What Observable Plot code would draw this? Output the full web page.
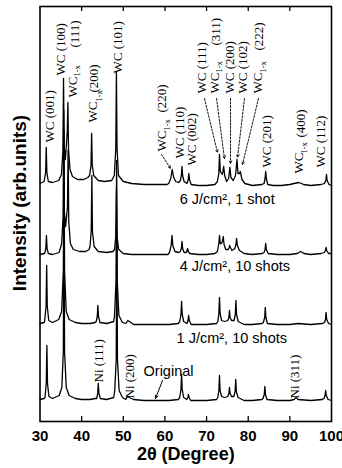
<!DOCTYPE html>
<html>
<head>
<meta charset="utf-8">
<script src="https://cdn.jsdelivr.net/npm/d3@7"></script>
<script src="https://cdn.jsdelivr.net/npm/@observablehq/plot@0.6"></script>
<style>
  html, body { margin: 0; padding: 0; background: #fff; overflow: hidden; }
  #chart { width: 342px; height: 468px; }
</style>
</head>
<body>
<div id="chart"></div>
<script>
// ---- data (2θ in degrees, intensity in arbitrary units, traces offset as drawn) ----
const xTicks = [30, 40, 50, 60, 70, 80, 90, 100];

const trace6J = [
  [30,238],[31.0,240],[31.35,249],[31.5,274],[31.65,249],[32.0,240],[33.0,239],[34.5,241],
  [35.15,247],[35.5,270],[35.65,343],[35.8,275],[36.1,262],[36.55,290],[36.7,319],[36.85,272],[37.2,252],[37.8,245],
  [39,242],[40.5,242],[41.5,244],[41.9,246],[42.25,256],[42.4,288],[42.55,256],[42.9,246],
  [44,241],[45.5,240],[47.2,241],[47.85,246],[48.2,273],[48.35,349],[48.5,273],[48.85,246],
  [50,240],[52,238],[55,237],[58,237],[60.5,237],[60.9,238],[61.4,243],[61.75,252],[62.1,244],[62.6,240],[63.3,239],
  [63.7,241],[63.95,246],[64.1,255],[64.25,246],[64.6,240],[65.3,238],[65.6,242],[65.75,248],[65.9,242],[66.3,237],
  [68,236],[70,236],[72,237],[72.6,240],[72.95,248],[73.1,267],[73.3,250],[73.8,247],[74.1,255],[74.35,246],[74.8,240],
  [75.3,243],[75.6,254],[75.85,244],[76.4,241],[76.95,246],[77.3,262],[77.55,248],[77.9,248],[78.1,250],[78.5,242],[79.2,238],
  [81,236],[83.3,237],[83.8,238],[84.05,243],[84.2,250],[84.35,243],[84.7,237],
  [86,236],[88,236],[90,237],[91,238],[92.2,239],[93.3,237],[95,236],[97.5,237],
  [98.3,238],[98.65,241],[98.8,247],[98.95,241],[99.4,237],[100,236]
];

const trace4J = [
  [30,167],[31.0,168],[31.1,168],[31.4,173],[31.55,186],[31.7,173],[32.0,168],[33,167],[34.6,169],
  [35.2,178],[35.55,205],[35.7,311],[35.85,210],[36.15,195],[36.6,215],[36.75,271],[36.9,200],[37.3,178],[38,172],
  [39.5,170],[41,170],[41.8,172],[42.0,175],[42.3,190],[42.45,246],[42.6,190],[43.0,175],
  [44,170],[46,169],[47.5,170],[47.9,172],[48.2,185],[48.35,233],[48.5,185],[48.9,172],
  [50,168],[52,167],[55,167],[58,167],[60.7,167],[61.1,169],[61.5,176],[61.7,186],[61.9,176],[62.4,170],[63.3,169],
  [63.7,170],[63.95,173],[64.1,180],[64.25,173],[64.6,169],[65.1,169],[65.3,171],[65.45,173],[65.6,170],[66,168],
  [68,167],[70,167],[72,168],[72.6,170],[72.95,178],[73.1,186],[73.3,178],[73.55,178],[73.8,180],[74.0,185],[74.2,177],[74.6,172],
  [75.2,172],[75.45,174],[75.55,176],[75.7,174],[76.1,171],[76.8,173],[77.05,177],[77.2,183],[77.4,176],[77.9,171],
  [79,168],[81,167],[83.4,168],[83.8,169],[84.05,172],[84.2,178],[84.35,172],[84.8,168],
  [87,167],[90,167],[91.8,168],[92.6,170],[93.4,168],[95,167],[97.5,168],
  [98.3,169],[98.55,171],[98.7,174],[98.85,171],[99.3,168],[100,168]
];

const trace1J = [
  [30,98],[31.0,99],[31.1,100],[31.45,115],[31.6,156],[31.75,115],[32.1,101],[33,99],[34.5,102],
  [35.2,110],[35.6,150],[35.75,291],[35.9,150],[36.3,110],[37,102],[38.5,99],[40,98],[42,98],[43.2,99],
  [43.5,100],[43.75,105],[43.9,116],[44.05,105],[44.4,99],[46,98],[47.7,100],
  [47.9,106],[48.25,140],[48.4,261],[48.55,140],[48.95,106],[49.8,99],[50.6,98],[51.1,101],[51.5,100],[52.5,97],
  [55,97],[58,97],[61,97],[63.2,98],[63.55,100],[63.85,107],[64.0,120],[64.15,107],[64.5,100],
  [65.3,98],[65.55,101],[65.7,106],[65.85,101],[66.3,97],[68,97],[70,97],[72.4,98],
  [72.7,100],[72.95,108],[73.1,124],[73.25,108],[73.6,101],[74.3,100],
  [75.1,101],[75.35,104],[75.5,111],[75.65,104],[76.0,101],[76.6,101],[76.9,107],[77.05,121],[77.2,107],[77.6,100],
  [79,97],[81,97],[83.3,98],[83.65,99],[83.95,104],[84.1,114],[84.25,104],[84.6,98],
  [87,97],[90,97],[92,98],[95,97],[97.8,98],[98.3,99],[98.55,102],[98.7,109],[98.85,102],[99.3,98],[100,97]
];

const traceOriginal = [
  [30,22],[31.0,23],[31.2,24],[31.5,38],[31.65,76],[31.8,38],[32.15,25],[33,23],[34.6,26],
  [35.25,34],[35.6,70],[35.75,221],[35.9,70],[36.3,34],[37,26],[38.5,23],[40,22],[42,22],[43.3,23],
  [43.6,23],[43.85,28],[44.0,38],[44.15,28],[44.5,23],[46,22],[47.7,24],
  [47.95,31],[48.3,62],[48.45,181],[48.6,62],[49.0,31],[49.8,24],[50.6,22],[51.0,25],[51.4,24],[52.5,22],
  [55,21],[58,21],[61,21],[63.2,22],[63.55,24],[63.85,32],[64.0,47],[64.15,32],[64.5,24],
  [65.25,22],[65.5,24],[65.65,27],[65.8,24],[66.2,21],[68,21],[70,21],[72.4,22],
  [72.7,24],[72.95,31],[73.1,46],[73.25,31],[73.6,25],[74.3,24],
  [75.1,25],[75.35,28],[75.5,34],[75.65,28],[76.0,25],[76.55,25],[76.85,30],[77.0,42],[77.15,30],[77.55,24],
  [79,21],[81,21],[83.3,22],[83.55,23],[83.85,27],[84.0,35],[84.15,27],[84.5,22],
  [87,21],[90,21],[91.0,22],[91.5,24],[92,22],[95,21],[97.8,22],[98.2,23],[98.45,26],[98.6,31],[98.75,26],[99.2,22],[100,21]
];

// peak labels: [text, 2θ, intensity at start of text]
const peakLabels = [
  ["WC (001)", 32.28, 279],
  ["WC (100)", 34.92, 346],
  ["WC", 37.8, 324], ["(111)", 38.3, 374],
  ["WC", 42.73, 299], ["(200)", 42.97, 329],
  ["WC (101)", 48.61, 348],
  ["WC", 59.18, 270], ["(220)", 59.18, 309],
  ["WC (110)", 63.62, 263],
  ["WC (002)", 66.5, 256],
  ["WC (111)", 68.78, 328],
  ["WC", 71.9, 328], ["(311)", 72.15, 376],
  ["WC (200)", 75.63, 328],
  ["WC (102)", 78.75, 328],
  ["WC", 82.23, 328], ["(222)", 82.47, 371],
  ["WC (201)", 84.4, 254],
  ["WC", 92.08, 248], ["(400)", 92.56, 284],
  ["WC (112)", 97.36, 254],
  ["Ni (111)", 44.05, 39],
  ["Ni (200)", 51.5, 23],
  ["Ni (311)", 91.12, 23]
];
const subLabels = [
  ["1-x", 38.9, 345], ["1-x", 44.17, 320], ["1-x", 60.5, 291],
  ["1-x", 73.1, 349], ["1-x", 83.55, 349], ["1-x", 93.4, 268]
];
// dotted leaders: [2θ start, I start, 2θ end, I end]
const leaders = [
  [59.18, 267, 61.34, 253],
  [69.5, 323, 72.62, 269],
  [72.39, 323, 74.3, 263],
  [75.75, 323, 75.75, 258],
  [79.11, 323, 77.43, 264],
  [82.47, 323, 78.63, 257]
];
const originalArrow = [[59.42, 41, 57.74, 23]];
const traceLabels = [
  ["6 J/cm², 1 shot", 63.53, 222],
  ["4 J/cm², 10 shots", 63.53, 155],
  ["1 J/cm², 10 shots", 62.8, 83],
  ["Original", 54.86, 50]
];
const xLabel = "2θ (Degree)";
const yLabel = "Intensity (arb.units)";

// ---- chart ----
const sans = "'Liberation Sans', Arial, Helvetica, sans-serif";
const serif = "'Liberation Serif', 'Times New Roman', serif";
const lineOpts = {x: d => d[0], y: d => d[1], stroke: "black", strokeWidth: 1.3, curve: "linear"};

const chart = Plot.plot({
  width: 342,
  height: 468,
  marginLeft: 39.5,
  marginRight: 11,
  marginTop: 6,
  marginBottom: 47,
  x: {domain: [30, 100], axis: null},
  y: {domain: [0, 415], axis: null},
  style: {fontFamily: sans, background: "white", color: "black", overflow: "visible"},
  marks: [
    Plot.line(traceOriginal, lineOpts),
    Plot.line(trace1J, lineOpts),
    Plot.line(trace4J, lineOpts),
    Plot.line(trace6J, lineOpts),
    Plot.ruleX(xTicks.slice(1, -1), {y1: 0, y2: 5, stroke: "black", strokeWidth: 1.3}),
    Plot.ruleX(xTicks.slice(1, -1), {y1: 410, y2: 415, stroke: "black", strokeWidth: 1.3}),
    Plot.frame({stroke: "black", strokeWidth: 1.6}),
    Plot.axisX(xTicks, {tickSize: 0, tickPadding: 9, fontSize: 15, fontWeight: "bold", label: null, fontFamily: sans}),
    Plot.text([xLabel], {frameAnchor: "bottom", dy: 33, textAnchor: "middle", lineAnchor: "middle", fontSize: 18, fontWeight: "bold", fontFamily: sans}),
    Plot.text([yLabel], {frameAnchor: "left", dx: -20, dy: -11, rotate: -90, textAnchor: "middle", lineAnchor: "middle", fontSize: 19, fontWeight: "bold", fontFamily: sans}),
    Plot.text(peakLabels, {x: d => d[1], y: d => d[2], text: d => d[0], rotate: -90, textAnchor: "start", lineAnchor: "middle", fontSize: 13, fontFamily: serif}),
    Plot.text(subLabels, {x: d => d[1], y: d => d[2], text: d => d[0], rotate: -90, textAnchor: "start", lineAnchor: "middle", fontSize: 8.5, fontFamily: serif}),
    Plot.arrow(leaders, {x1: d => d[0], y1: d => d[1], x2: d => d[2], y2: d => d[3], stroke: "black", strokeWidth: 0.9, strokeDasharray: "2,1.5", headLength: 5, headAngle: 50}),
    Plot.arrow(originalArrow, {x1: d => d[0], y1: d => d[1], x2: d => d[2], y2: d => d[3], stroke: "black", strokeWidth: 1, headLength: 5, headAngle: 50}),
    Plot.text(traceLabels, {x: d => d[1], y: d => d[2], text: d => d[0], textAnchor: "start", lineAnchor: "middle", fontSize: 14.5, fontFamily: sans})
  ]
});
document.getElementById("chart").append(chart);
</script>
</body>
</html>
